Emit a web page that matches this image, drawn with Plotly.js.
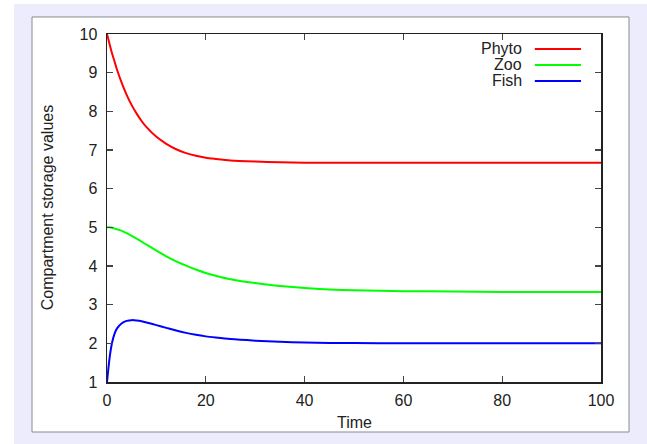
<!DOCTYPE html>
<html>
<head>
<meta charset="utf-8">
<script src="https://cdn.plot.ly/plotly-3.0.1.min.js"></script>
<style>
  html, body { margin: 0; padding: 0; background: #ffffff; }
  #chart { position: absolute; left: 14px; top: 4px; width: 633px; height: 440px; }
</style>
</head>
<body>
<div id="chart"></div>
<script>
// ---- data ----
const time = [0, 0.5, 1, 1.5, 2, 3, 4, 5, 6, 7, 8, 10, 12, 14, 16, 18, 20, 22, 25, 30, 35, 40, 45, 50, 60, 70, 80, 90, 100];
const phyto = [10.00, 9.75, 9.51, 9.30, 9.09, 8.73, 8.42, 8.16, 7.94, 7.75, 7.59, 7.34, 7.16, 7.02, 6.92, 6.85, 6.80, 6.77, 6.73, 6.70, 6.68, 6.67, 6.67, 6.67, 6.67, 6.67, 6.67, 6.67, 6.67];
const zoo = [5.00, 5.00, 4.99, 4.97, 4.95, 4.91, 4.85, 4.78, 4.71, 4.63, 4.55, 4.40, 4.25, 4.12, 4.01, 3.91, 3.82, 3.75, 3.66, 3.56, 3.48, 3.43, 3.39, 3.37, 3.35, 3.34, 3.33, 3.33, 3.33];
const fish = [1.00, 1.60, 2.00, 2.24, 2.38, 2.52, 2.58, 2.60, 2.59, 2.57, 2.54, 2.47, 2.40, 2.33, 2.27, 2.22, 2.18, 2.15, 2.11, 2.07, 2.04, 2.02, 2.01, 2.01, 2.00, 2.00, 2.00, 2.00, 2.00];
const seriesNames = ["Phyto", "Zoo", "Fish"];
const seriesColors = ["#ff0000", "#00ff00", "#0000ff"];
const xTicks = [0, 20, 40, 60, 80, 100];
const yTicks = [1, 2, 3, 4, 5, 6, 7, 8, 9, 10];

const seriesValues = [phyto, zoo, fish];
const traces = seriesValues.map((vals, i) => ({
  x: time, y: vals, type: "scatter", mode: "lines", name: seriesNames[i],
  line: { color: seriesColors[i], width: 2, shape: "spline", smoothing: 0.6 },
  showlegend: false, hoverinfo: "skip"
}));

const font = { family: "Liberation Sans, Arial, sans-serif", size: 16, color: "#222222" };

// legend drawn gnuplot-style: right-aligned text then a line sample
const legY = [0.957, 0.911, 0.865];
const annotations = seriesNames.map((n, i) => ({
  xref: "paper", yref: "paper", x: 0.844, y: legY[i], xanchor: "right", yanchor: "middle",
  text: n, showarrow: false, font: font
}));
annotations.push({
  xref: "paper", yref: "paper", x: 0.5, y: -0.116, xanchor: "center", yanchor: "middle",
  text: "Time", showarrow: false, font: font
});
annotations.push({
  xref: "paper", yref: "paper", x: -0.121, y: 0.5, xanchor: "center", yanchor: "middle",
  text: "Compartment storage values", showarrow: false, textangle: -90, font: font
});

const shapes = [{
  type: "rect", xref: "paper", yref: "paper", layer: "below",
  x0: -0.1518, x1: 1.0567, y0: -0.1437, y1: 1.0489,
  fillcolor: "#ffffff", line: { color: "#8a8a8a", width: 1 }
}];
seriesNames.forEach((n, i) => shapes.push({
  type: "line", xref: "paper", yref: "paper", x0: 0.866, x1: 0.9595, y0: legY[i], y1: legY[i],
  line: { color: seriesColors[i], width: 2 }
}));

const axisCommon = {
  showgrid: false, zeroline: false, showline: true, mirror: "ticks",
  linecolor: "#222222", linewidth: 1.5, ticks: "inside", ticklen: 6, tickwidth: 1.2,
  tickcolor: "#444444", tickfont: font, fixedrange: true
};

const layout = {
  width: 633, height: 440,
  margin: { l: 93, r: 46, t: 30, b: 62, pad: 0 },
  paper_bgcolor: "#ececfc", plot_bgcolor: "#ffffff",
  showlegend: false,
  xaxis: Object.assign({}, axisCommon, { range: [0, 100], tickvals: xTicks, ticktext: xTicks.map(String), ticklabelstandoff: 3 }),
  yaxis: Object.assign({}, axisCommon, { range: [1, 10], tickvals: yTicks, ticktext: yTicks.map(String), ticklabelstandoff: 5 }),
  annotations: annotations, shapes: shapes
};

Plotly.newPlot("chart", traces, layout, { staticPlot: true, displayModeBar: false });
</script>
</body>
</html>
